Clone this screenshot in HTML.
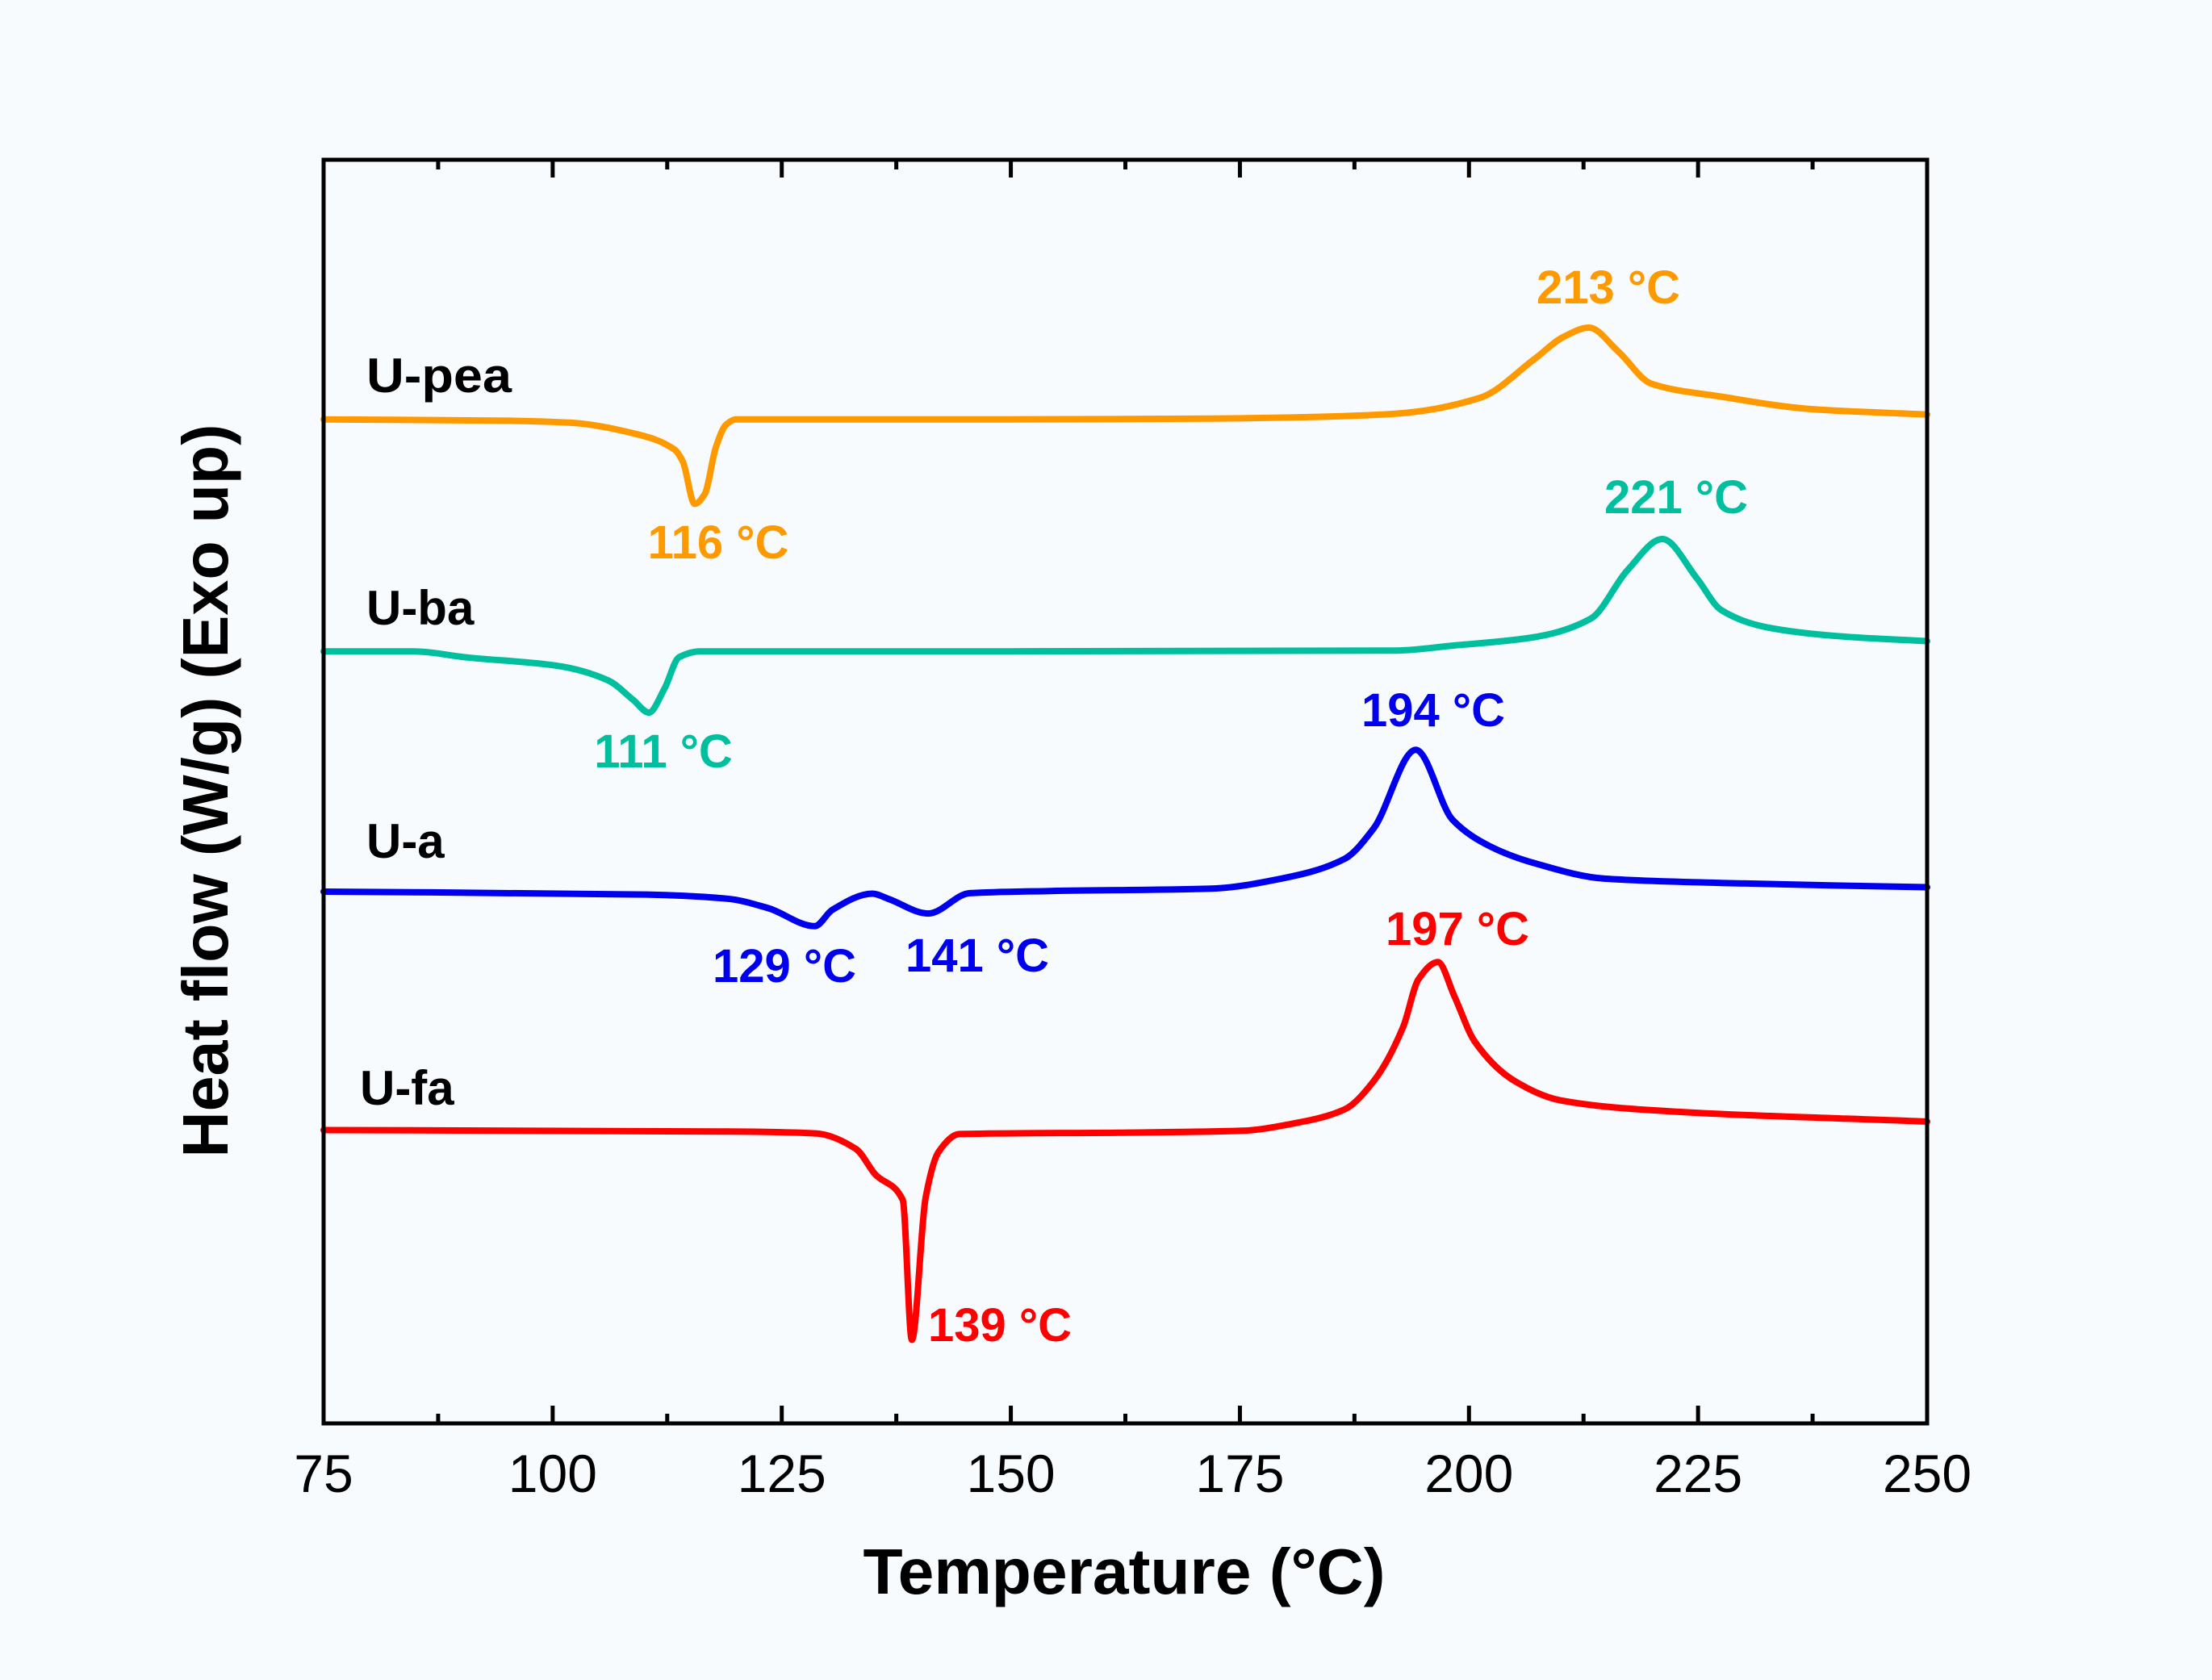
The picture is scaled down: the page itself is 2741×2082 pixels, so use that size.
<!DOCTYPE html>
<html><head><meta charset="utf-8"><style>
html,body{margin:0;padding:0;background:#f8fbfe;}
svg{display:block;}
text{font-family:"Liberation Sans",Arial,sans-serif;}
</style></head><body>
<svg id="chart" width="2741" height="2082" viewBox="0 0 2741 2082" xmlns="http://www.w3.org/2000/svg">
<rect x="0" y="0" width="2741" height="2082" fill="#f8fbfe"/>
<g id="series"></g>
<g id="axes"></g>
<g id="labels" font-weight="bold" font-size="58">
<text x="454" y="486" fill="#000" font-size="60" textLength="180" lengthAdjust="spacingAndGlyphs">U-pea</text>
<text x="454" y="774" fill="#000" font-size="60">U-ba</text>
<text x="454" y="1063" fill="#000" font-size="60">U-a</text>
<text x="446" y="1369" fill="#000" font-size="60">U-fa</text>
<text x="1993" y="376" text-anchor="middle" fill="#ff9900">213 °C</text>
<text x="890" y="692" text-anchor="middle" fill="#ff9900">116 °C</text>
<text x="2077" y="636" text-anchor="middle" fill="#00bf9f">221 °C</text>
<text x="822" y="951" text-anchor="middle" fill="#00bf9f">111 °C</text>
<text x="1776" y="900" text-anchor="middle" fill="#0000ee">194 °C</text>
<text x="972" y="1217" text-anchor="middle" fill="#0000ee">129 °C</text>
<text x="1211" y="1204" text-anchor="middle" fill="#0000ee">141 °C</text>
<text x="1806" y="1171" text-anchor="middle" fill="#ff0000">197 °C</text>
<text x="1150" y="1662" fill="#ff0000">139 °C</text>
</g>
<text x="1393" y="1975" text-anchor="middle" font-weight="bold" font-size="80" textLength="647" lengthAdjust="spacingAndGlyphs">Temperature (°C)</text>
<text transform="translate(282,980) rotate(-90)" x="0" y="0" text-anchor="middle" font-weight="bold" font-size="80" textLength="909" lengthAdjust="spacingAndGlyphs">Heat flow (W/g) (Exo up)</text>
</svg>
<script>
// Temperature axis
const xTicks = [75, 100, 125, 150, 175, 200, 225, 250];
const xTickLabels = ["75", "100", "125", "150", "175", "200", "225", "250"];
// Series (temperature °C, heat flow arbitrary offset units)
const upeaT = [75,95,102,108.8,113.3,114.2,115.5,116.6,117.8,118.9,120,150,171.9,185,192.1,201.2,207.2,210.3,213.1,216.3,219.9,227.5,237.5,250];
const upeaV = [79.46,79.35,79.19,78.35,77.06,76.12,72.77,73.55,77.23,79.02,79.46,79.46,79.52,79.69,79.91,81.16,84.26,85.98,86.72,84.82,82.28,81.26,80.26,79.84];
const ubaT = [75,84.7,90.7,100.4,106,108.8,110.5,112.2,113.8,116.1,150,192.1,198.2,207.2,213.3,217.3,221.1,224.9,227.5,232.5,240.1,250];
const ubaV = [61.1,61.1,60.61,59.97,58.82,57.25,56.25,58.15,60.64,61.1,61.1,61.16,61.55,62.23,63.69,67.52,69.99,66.85,64.38,63.0,62.31,61.9];
const uaT = [75,110.3,119.1,123.5,128.6,130.5,134.9,136.6,141,145.5,154.3,171.9,179.5,186.4,189.6,194.2,198.2,202.2,207.2,214.8,227.5,250];
const uaV = [42.08,41.85,41.52,40.78,39.35,40.63,41.92,41.52,40.35,41.96,42.13,42.32,43.11,44.67,47.09,53.31,47.78,45.7,44.32,43.11,42.77,42.43];
const ufaT = [75,119.1,128.7,133.1,135.2,138.2,139.2,140.7,142.1,144.4,161.8,175.2,180.8,186.4,189.6,192.8,194.5,196.6,198.4,200.6,205,210,220,250];
const ufaV = [23.21,23.1,22.95,21.72,19.71,17.69,6.61,17.86,21.47,22.9,23.01,23.16,23.73,24.84,27.09,31.34,35.16,36.51,33.82,30.25,27.09,25.56,24.78,23.88];

const NS = "http://www.w3.org/2000/svg";
const X0 = 401, X1 = 2388, Y0 = 1764, Y1 = 198;
const xDomain = [75, 250], yDomain = [0, 100];
function xScale(t){ return X0 + (t - xDomain[0]) / (xDomain[1] - xDomain[0]) * (X1 - X0); }
function yScale(v){ return Y0 - (v - yDomain[0]) / (yDomain[1] - yDomain[0]) * (Y0 - Y1); }

// monotone cubic (Fritsch-Carlson) path
function monotonePath(xs, ys){
  const n = xs.length, d = [], m = new Array(n);
  for (let i = 0; i < n - 1; i++) d.push((ys[i+1]-ys[i])/(xs[i+1]-xs[i]));
  m[0] = d[0]; m[n-1] = d[n-2];
  for (let i = 1; i < n - 1; i++){
    if (d[i-1]*d[i] <= 0) m[i] = 0;
    else { const w1 = 2*(xs[i+1]-xs[i]) + (xs[i]-xs[i-1]), w2 = (xs[i+1]-xs[i]) + 2*(xs[i]-xs[i-1]);
      m[i] = (w1+w2)/(w1/d[i-1] + w2/d[i]); }
  }
  let s = 'M' + xs[0].toFixed(1) + ',' + ys[0].toFixed(1);
  for (let i = 0; i < n - 1; i++){
    const h = (xs[i+1]-xs[i])/3;
    s += ' C' + (xs[i]+h).toFixed(1) + ',' + (ys[i]+m[i]*h).toFixed(1) + ' ' +
         (xs[i+1]-h).toFixed(1) + ',' + (ys[i+1]-m[i+1]*h).toFixed(1) + ' ' +
         xs[i+1].toFixed(1) + ',' + ys[i+1].toFixed(1);
  }
  return s;
}

const seriesG = document.getElementById('series');
function drawSeries(ts, vs, color, name){
  const p = document.createElementNS(NS, 'path');
  p.setAttribute('d', monotonePath(ts.map(xScale), vs.map(yScale)));
  p.setAttribute('fill','none');
  p.setAttribute('stroke',color);
  p.setAttribute('stroke-width','8');
  p.setAttribute('stroke-linejoin','round');
  p.setAttribute('stroke-linecap','round');
  
  
  seriesG.appendChild(p);
}
drawSeries(upeaT, upeaV, '#ff9900', 'series-u-pea');
drawSeries(ubaT, ubaV, '#00bf9f', 'series-u-ba');
drawSeries(uaT, uaV, '#0000ee', 'series-u-a');
drawSeries(ufaT, ufaV, '#ff0000', 'series-u-fa');

const axesG = document.getElementById('axes');
const frame = document.createElementNS(NS, 'rect');
frame.setAttribute('x', X0); frame.setAttribute('y', Y1);
frame.setAttribute('width', X1 - X0); frame.setAttribute('height', Y0 - Y1);
frame.setAttribute('fill','none'); frame.setAttribute('stroke','#000'); frame.setAttribute('stroke-width','5');


axesG.appendChild(frame);

function tick(x, y, len, name){
  const l = document.createElementNS(NS, 'line');
  l.setAttribute('x1', x); l.setAttribute('x2', x);
  l.setAttribute('y1', y); l.setAttribute('y2', y + len);
  l.setAttribute('stroke','#000'); l.setAttribute('stroke-width','5');
  
  
  axesG.appendChild(l);
}
for (let i = 0; i < xTicks.length; i++){
  const x = xScale(xTicks[i]);
  tick(x, Y0, -22, 'x-tick-bottom');
  tick(x, Y1, 22, 'x-tick-top');
  if (i < xTicks.length - 1){
    const xm = xScale(xTicks[i] + 12.5);
    tick(xm, Y0, -12, 'x-minor-tick-bottom');
    tick(xm, Y1, 12, 'x-minor-tick-top');
  }
  const t = document.createElementNS(NS, 'text');
  t.setAttribute('x', x); t.setAttribute('y', 1849);
  t.setAttribute('text-anchor','middle'); t.setAttribute('font-size','66');
  t.textContent = xTickLabels[i];
  
  
  axesG.appendChild(t);
}
</script>
</body></html>
